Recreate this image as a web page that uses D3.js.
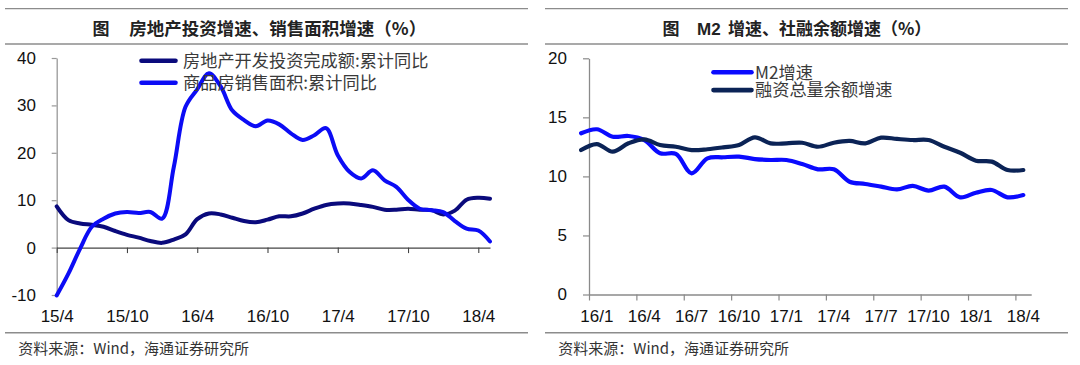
<!DOCTYPE html>
<html><head><meta charset="utf-8">
<script src="https://cdn.jsdelivr.net/npm/d3@7/dist/d3.min.js"></script>
<style>
body{margin:0;background:#fff;}
svg{display:block;}
</style></head><body>
<svg id="c" width="1080" height="365"></svg>
<script>
// ---------- Left chart data ----------
const leftCategories = ["15/4","15/5","15/6","15/7","15/8","15/9","15/10","15/11","15/12","16/1","16/2","16/3",
  "16/4","16/5","16/6","16/7","16/8","16/9","16/10","16/11","16/12","17/1","17/2","17/3",
  "17/4","17/5","17/6","17/7","17/8","17/9","17/10","17/11","17/12","18/1","18/2","18/3","18/4","18/5"];
const leftTickLabels = ["15/4","15/10","16/4","16/10","17/4","17/10","18/4"];
const leftYTicks = [-10,0,10,20,30,40];
const investGrowth = [8.7,5.8,5.1,4.8,4.4,3.5,2.7,2.1,1.4,1.0,1.7,2.8,
  6.0,7.2,7.0,6.3,5.6,5.35,5.9,6.6,6.6,7.2,8.2,9.0,
  9.3,9.3,9.0,8.6,8.0,8.0,8.2,8.0,7.9,7.0,7.8,10.1,10.5,10.3];
const salesAreaGrowth = [-10.1,-5.5,-0.2,4.4,6.1,7.2,7.5,7.3,7.5,6.1,17.0,29.7,
  33.4,36.8,34.0,28.9,26.9,25.6,26.8,26.0,24.1,22.7,23.7,25.2,
  19.5,16.0,14.6,16.3,14.2,12.8,10.1,8.2,7.9,7.5,5.6,4.0,3.6,1.3];
const leftSeriesNames = ["房地产开发投资完成额:累计同比","商品房销售面积:累计同比"];

// ---------- Right chart data ----------
const rightCategories = ["15/12","16/1","16/2","16/3","16/4","16/5","16/6","16/7","16/8","16/9","16/10","16/11","16/12",
  "17/1","17/2","17/3","17/4","17/5","17/6","17/7","17/8","17/9","17/10","17/11","17/12",
  "18/1","18/2","18/3","18/4"];
const rightTickLabels = ["16/1","16/4","16/7","16/10","17/1","17/4","17/7","17/10","18/1","18/4"];
const rightYTicks = [0,5,10,15,20];
const m2Growth = [13.65,13.99,13.36,13.42,13.08,11.96,11.9,10.26,11.53,11.62,11.67,11.47,11.39,
  11.39,11.05,10.6,10.6,9.55,9.36,9.13,8.9,9.2,8.8,9.13,8.23,
  8.62,8.85,8.23,8.42];
const tsfGrowth = [12.23,12.74,12.09,12.8,13.14,12.66,12.51,12.23,12.3,12.46,12.66,13.31,12.8,
  12.8,12.85,12.51,12.85,13.0,12.8,13.28,13.17,13.08,13.08,12.51,12.0,
  11.33,11.25,10.54,10.54];
const rightSeriesNames = ["M2增速","融资总量余额增速"];

const titles = [["图","房地产投资增速、销售面积增速（%）"],["图","M2","增速、社融余额增速（%）"]];
const sourceText = "资料来源：Wind，海通证券研究所";

// ---------- Drawing ----------
const svg = d3.select("#c");
const cjk = "'Noto Sans CJK SC','Noto Sans',sans-serif";
const latin = "'Liberation Sans',Arial,sans-serif";
const RULE = "#8c8c8c";
const plain = d => String(d);

function frame(x0, x1) {
  [8.6, 44, 332.7].forEach(y => svg.append("line").attr("x1", x0).attr("x2", x1)
    .attr("y1", y).attr("y2", y).attr("stroke", RULE).attr("stroke-width", 1.4));
  svg.append("text").attr("x", x0 + 13.3).attr("y", 354).attr("font-family", cjk)
    .attr("font-size", 15).attr("fill", "#333").text(sourceText);
}
frame(5, 528);
frame(545, 1068);

// Titles
svg.append("text").attr("x", 92.4).attr("y", 34.5).attr("font-family", cjk).attr("font-weight", 700)
  .attr("font-size", 17).attr("fill", "#222").text(titles[0][0]);
svg.append("text").attr("x", 129.3).attr("y", 34.5).attr("font-family", cjk).attr("font-weight", 700)
  .attr("font-size", 17.5).attr("fill", "#222").text(titles[0][1]);
svg.append("text").attr("x", 662.4).attr("y", 34.5).attr("font-family", cjk).attr("font-weight", 700)
  .attr("font-size", 17).attr("fill", "#222").text(titles[1][0]);
svg.append("text").attr("x", 697).attr("y", 34.5).attr("font-family", latin).attr("font-weight", 700)
  .attr("font-size", 17).attr("fill", "#222").text(titles[1][1]);
svg.append("text").attr("x", 728).attr("y", 34.5).attr("font-family", cjk).attr("font-weight", 700)
  .attr("font-size", 17).attr("fill", "#222").text(titles[1][2]);

// ===== Left chart =====
const xL = d3.scaleLinear().domain([0, leftCategories.length - 1]).range([56.7, 490]);
const yL = d3.scaleLinear().domain([-10, 40]).range([295, 58]);

const yAxisL = svg.append("g").attr("transform", "translate(56.7,0)")
  .call(d3.axisLeft(yL).tickValues(leftYTicks).tickFormat(plain).tickSize(5).tickSizeOuter(0).tickPadding(15.7));
yAxisL.select(".domain").attr("stroke", "#999").attr("stroke-width", 1.3);
yAxisL.selectAll(".tick line").attr("stroke", "#999").attr("stroke-width", 1.2);
yAxisL.selectAll("text").attr("font-family", latin).attr("font-size", 17).attr("fill", "#111");

const xAxisL = svg.append("g").attr("transform", `translate(0,${yL(0)})`)
  .call(d3.axisBottom(xL).tickValues(leftTickLabels.map(l => leftCategories.indexOf(l)))
    .tickFormat(i => leftCategories[i]).tickSize(5.5).tickSizeOuter(0));
xAxisL.select(".domain").attr("stroke", "#444").attr("stroke-width", 1.1);
xAxisL.selectAll(".tick line").attr("stroke", "#444").attr("stroke-width", 1.1);
xAxisL.selectAll("text").attr("font-family", latin).attr("font-size", 17).attr("fill", "#111")
  .attr("y", 321.7 - yL(0)).attr("dy", 0);

const leftColors = ["#0a0a7c", "#0c0cf5"];
[investGrowth, salesAreaGrowth].forEach((arr, si) => {
  const line = d3.line().x((d, i) => xL(i)).y(d => yL(d)).curve(d3.curveCatmullRom.alpha(0.5));
  svg.append("path").datum(arr).attr("d", line).attr("fill", "none")
    .attr("stroke", leftColors[si]).attr("stroke-width", 4)
    .attr("stroke-linejoin", "round").attr("stroke-linecap", "round");
});
// Left legend
leftSeriesNames.forEach((name, i) => {
  const cy = 60.7 + i * 22;
  svg.append("line").attr("x1", 141.5).attr("x2", 175.5).attr("y1", cy).attr("y2", cy)
    .attr("stroke", leftColors[i]).attr("stroke-width", 4.6).attr("stroke-linecap", "round");
  svg.append("text").attr("x", 183).attr("y", cy + 6.2).attr("font-family", cjk)
    .attr("font-size", 17.2).attr("fill", "#3a3a3a").text(name);
});

// ===== Right chart =====
// xR(k) = left boundary of category k; points sit at category centres
const xR = d3.scaleLinear().domain([1, rightCategories.length]).range([589, 1031.2]);
const yR = d3.scaleLinear().domain([0, 20]).range([294.5, 58.3]);

const yAxisR = svg.append("g").attr("transform", "translate(589,0)")
  .call(d3.axisLeft(yR).tickValues(rightYTicks).tickFormat(plain).tickSize(6).tickSizeOuter(0).tickPadding(16));
yAxisR.select(".domain").attr("stroke", "#8a8a8a").attr("stroke-width", 1.3);
yAxisR.selectAll(".tick line").attr("stroke", "#8a8a8a").attr("stroke-width", 1.2);
yAxisR.selectAll("text").attr("font-family", latin).attr("font-size", 17).attr("fill", "#111");

const xAxisR = svg.append("g").attr("transform", `translate(0,${yR(0)})`)
  .call(d3.axisBottom(xR).tickValues(rightTickLabels.map(l => rightCategories.indexOf(l)))
    .tickFormat("").tickSize(6).tickSizeOuter(0));
xAxisR.select(".domain").attr("stroke", "#8a8a8a").attr("stroke-width", 1.3);
xAxisR.selectAll(".tick line").attr("stroke", "#8a8a8a").attr("stroke-width", 1.2);
svg.append("g").selectAll("text").data(rightTickLabels).join("text")
  .attr("x", l => xR(rightCategories.indexOf(l) + 0.5)).attr("y", 321.7)
  .attr("text-anchor", "middle").attr("font-family", latin).attr("font-size", 17).attr("fill", "#111")
  .text(l => l);

const rightColors = ["#0a0aff", "#0b2356"];
[m2Growth, tsfGrowth].forEach((arr, si) => {
  const line = d3.line().x((d, i) => xR(i + 0.5)).y(d => yR(d)).curve(d3.curveCatmullRom.alpha(0.5));
  svg.append("path").datum(arr).attr("d", line).attr("fill", "none")
    .attr("stroke", rightColors[si]).attr("stroke-width", 4.2)
    .attr("stroke-linejoin", "round").attr("stroke-linecap", "round");
});
// Right legend
rightSeriesNames.forEach((name, i) => {
  const cy = 72.3 + i * 17.8;
  svg.append("line").attr("x1", 713.5).attr("x2", 751.5).attr("y1", cy).attr("y2", cy)
    .attr("stroke", rightColors[i]).attr("stroke-width", 4.6).attr("stroke-linecap", "round");
  svg.append("text").attr("x", 755).attr("y", cy + 6.2).attr("font-family", cjk)
    .attr("font-size", 17.2).attr("fill", "#3a3a3a").text(name);
});
</script>
</body></html>
